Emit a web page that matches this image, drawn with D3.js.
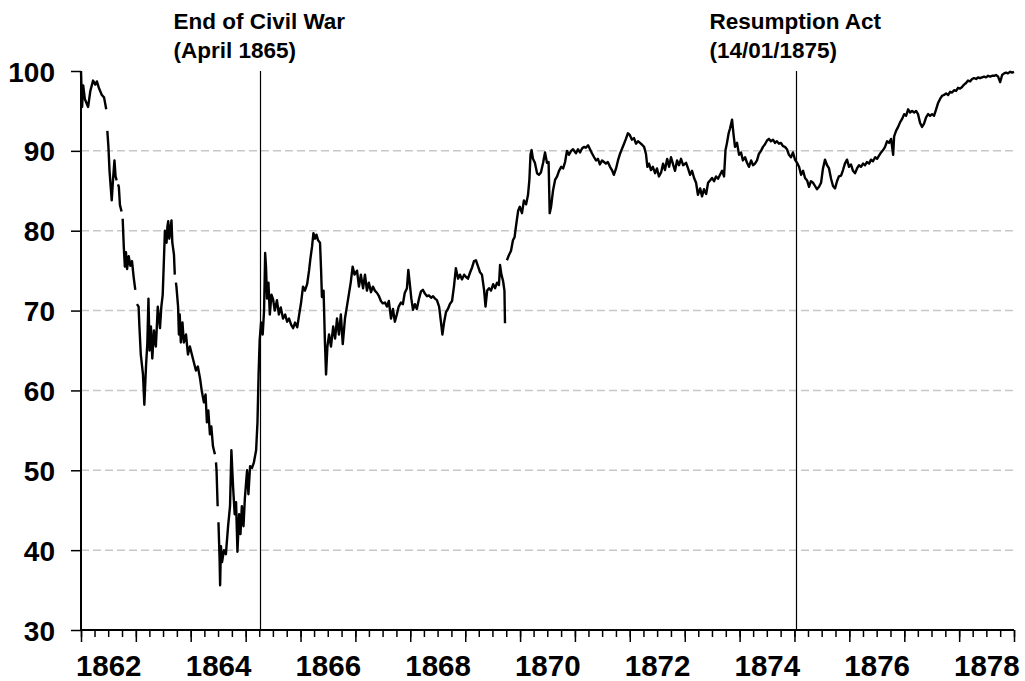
<!DOCTYPE html>
<html>
<head>
<meta charset="utf-8">
<script src="https://cdn.jsdelivr.net/npm/d3@7"></script>
<style>
  body { margin: 0; background: #fff; }
  text { font-family: "Liberation Sans", Arial, sans-serif; font-weight: bold; }
</style>
</head>
<body>
<script>
// greenback price in gold, readings as [fraction of year, value]; null marks a gap
var p1862 = [[0,100],[.02,95.5],[.04,98.2],[.07,96.5],[.13,95.5],[.17,97.5],[.22,98.8],[.26,98.3],[.29,98.7],[.33,97.8],[.38,97.0],[.42,96.7],[.46,95.2],[.47,null],[.48,92.5],[.50,90.5],[.52,87.5],[.56,83.8],[.585,86.5],[.61,88.8],[.63,86.8],[.65,86.3],[.665,null],[.675,85.8],[.69,85.5],[.71,83.2],[.74,82.4],[.75,null],[.76,81.5],[.78,78],[.80,75.5],[.82,77.3],[.84,75.2],[.87,76.8],[.90,75.6],[.93,76.2],[.96,74.2],[.99,72.6],[1.0,null]];
var p1863 = [[.02,70.8],[.05,70.5],[.065,68],[.09,64.5],[.13,62],[.155,58.2],[.185,63],[.21,66],[.23,71.5],[.25,65],[.275,68],[.30,64],[.33,67.5],[.365,65.5],[.40,70.5],[.44,67.8],[.465,70.5],[.49,72],[.51,76],[.53,80],[.56,78.5],[.575,80.5],[.59,81.2],[.61,79],[.65,81.3],[.665,78.5],[.695,77],[.71,74.5],[.72,null],[.73,73.5],[.74,73],[.77,70.5],[.785,67],[.80,69.5],[.82,66],[.85,68.5],[.875,66],[.915,67],[.95,64.5],[.985,65.5]];
var p1864 = [[.04,64],[.095,62.5],[.13,63],[.17,61.5],[.20,60],[.24,58.5],[.27,59.5],[.295,56],[.32,57.5],[.35,54.5],[.375,55.5],[.405,53],[.44,52],[.45,null],[.46,51],[.47,50],[.49,45.5],[.50,null],[.505,43.5],[.525,39],[.535,35.6],[.55,40.5],[.57,38.5],[.605,40],[.64,39.5],[.68,43],[.715,45.5],[.74,52.5],[.77,48],[.80,44.5],[.825,46],[.85,39.8],[.88,44.5],[.905,42],[.93,45.5],[.96,43],[.985,46.5]];
var p1865 = [[.025,50],[.05,47],[.08,50.5],[.115,50.3],[.15,51],[.19,52.5],[.215,56],[.235,62],[.255,66.3],[.28,68.5],[.31,67],[.335,70],[.355,77.2],[.37,75.5],[.39,71.5],[.415,73.5],[.44,69.5],[.47,72],[.50,71.4],[.53,70],[.57,71.3],[.605,69.5],[.64,70.4],[.68,69],[.72,69.5],[.755,68.6],[.79,69],[.83,68.2],[.865,67.8],[.90,68.5],[.94,67.9],[.975,69.5]];
var p1866 = [[.01,71],[.045,73],[.08,72.5],[.12,73.3],[.155,75],[.18,76.5],[.21,78],[.235,79.7],[.265,79],[.29,79.5],[.32,78.8],[.355,78.5],[.375,75],[.39,71.7],[.42,72.5],[.445,66],[.465,62],[.49,65.5],[.52,67],[.555,65.5],[.595,68],[.63,66.5],[.665,69],[.70,67],[.735,69.5],[.77,65.8],[.81,69],[.845,70.5],[.88,72],[.915,73.5],[.95,75.5],[.985,74.5]];
var p1867 = [[.03,75],[.065,73],[.10,74.5],[.14,72.8],[.175,74.5],[.21,72.5],[.245,73.5],[.285,72.3],[.32,73],[.355,72.5],[.395,72.2],[.43,71.8],[.465,71.2],[.50,70.9],[.54,71],[.575,70.5],[.61,71.2],[.65,69],[.685,70.2],[.72,68.6],[.755,69.5],[.79,70.5],[.83,71],[.865,70.8],[.90,72.2],[.94,72.8],[.965,75.1],[.99,73.5]];
var p1868 = [[.02,71.5],[.05,70.1],[.085,70.8],[.12,70.2],[.16,71.5],[.195,72.4],[.23,72.6],[.27,72.1],[.305,71.8],[.34,71.9],[.38,71.6],[.415,71.8],[.45,71.5],[.485,71.3],[.525,70.5],[.56,68.5],[.585,67],[.615,68.5],[.65,69.8],[.685,70.2],[.72,70.8],[.76,71.2],[.795,73],[.83,75.3],[.87,74],[.905,74.5],[.94,73.9],[.98,74.5]];
var p1869 = [[.015,74.2],[.05,74],[.09,74.8],[.125,75.4],[.16,76.2],[.195,76.3],[.235,75.5],[.27,74.8],[.305,74.5],[.345,72.5],[.37,70.5],[.40,72.5],[.435,72.8],[.47,72.5],[.51,73.3],[.545,72.8],[.58,73.5],[.615,73.2],[.635,75.7],[.66,74.5],[.69,73.7],[.715,72.5],[.725,68.4],[.73,null],[.76,76.3],[.80,77],[.835,77.5],[.87,78.8],[.90,79.2],[.93,80.8],[.965,82.5],[.995,83]];
var p1870 = [[.035,82.2],[.07,83.8],[.11,83.3],[.145,84.5],[.17,86.4],[.19,89.5],[.21,90.1],[.235,89],[.27,88.5],[.31,87.2],[.345,87],[.38,87.3],[.42,88.5],[.455,89.8],[.49,88.5],[.52,88.6],[.54,82.2],[.565,83],[.60,85],[.64,86.4],[.675,86.8],[.71,87.5],[.75,88],[.785,87.8],[.82,88.6],[.855,90],[.89,89.5],[.93,90],[.965,90.2]];
var p1871 = [[.02,89.7],[.055,90.2],[.093,89.8],[.13,90.3],[.165,90.5],[.20,90.4],[.24,90.7],[.275,90.2],[.31,89.7],[.35,89.2],[.385,88.8],[.42,89.0],[.455,88.3],[.495,88.8],[.53,88.6],[.565,88.4],[.60,88.6],[.64,88.0],[.675,87.6],[.71,87.0],[.75,87.8],[.785,88.8],[.82,89.6],[.855,90.2],[.89,90.8],[.93,91.5],[.965,92.2]];
var p1872 = [[0,92.0],[.04,91.4],[.077,91.6],[.113,90.9],[.15,91.2],[.186,91.0],[.22,90.8],[.26,90.5],[.295,89.6],[.32,88.0],[.35,88.4],[.386,87.6],[.42,88.0],[.46,87.2],[.495,87.8],[.53,86.8],[.57,87.3],[.605,88.4],[.64,87.6],[.68,89.0],[.715,88.0],[.75,89.2],[.787,88.3],[.823,87.5],[.86,88.8],[.896,88.2],[.932,89.0],[.97,88.2]];
var p1873 = [[.024,88.5],[.06,87.8],[.097,87.0],[.133,87.5],[.17,86.6],[.206,86.0],[.24,84.5],[.28,85.3],[.315,84.3],[.35,85.2],[.39,84.6],[.425,86.0],[.46,86.3],[.497,86.6],[.534,86.2],[.57,86.8],[.607,86.5],[.643,87.0],[.68,87.5],[.716,86.8],[.743,90.1],[.77,91.0],[.80,92.2],[.825,92.8],[.862,93.9],[.89,92.0],[.916,90.5],[.953,91.0],[.99,89.5]];
var p1874 = [[.026,89.8],[.06,88.8],[.10,89.2],[.135,88.5],[.17,88.0],[.21,88.8],[.245,88.2],[.28,88.4],[.317,88.8],[.35,89.6],[.39,90.0],[.426,90.5],[.46,90.8],[.50,91.3],[.535,91.5],[.57,91.2],[.608,91.4],[.645,91.0],[.68,91.2],[.718,90.9],[.754,91.0],[.79,90.6],[.827,90.5],[.863,90.2],[.90,89.5],[.936,89.2],[.973,89.8]];
var p1875 = [[.01,88.9],[.047,88.5],[.084,88.0],[.12,87.0],[.157,87.5],[.193,86.6],[.23,86.3],[.266,85.5],[.30,86.2],[.34,86.0],[.375,85.6],[.41,85.2],[.448,85.5],[.485,86.0],[.52,87.8],[.557,88.9],[.594,88.2],[.63,87.8],[.667,86.5],[.703,85.6],[.74,85.3],[.776,86.2],[.81,86.8],[.85,86.9],[.885,87.6],[.92,88.4],[.958,88.9],[.995,88.0]];
var p1876 = [[.03,88.3],[.067,87.5],[.104,87.2],[.14,87.8],[.177,88.2],[.213,88.0],[.25,88.4],[.286,88.2],[.32,88.6],[.36,88.4],[.395,88.9],[.43,88.7],[.47,89.2],[.505,89.0],[.54,89.4],[.578,89.8],[.615,90.1],[.65,90.5],[.687,91.2],[.724,91.0],[.76,91.5],[.797,89.5],[.815,91.8],[.85,92.5],[.888,93.0],[.925,93.6],[.96,94.0],[.997,94.6]];
var p1877 = [[.033,94.4],[.07,95.2],[.106,94.8],[.142,95.0],[.18,94.8],[.215,95.0],[.25,94.6],[.288,93.5],[.324,93.0],[.36,93.4],[.397,94.2],[.434,94.6],[.47,94.4],[.507,94.6],[.543,94.4],[.58,95.2],[.616,96.0],[.652,96.5],[.69,96.9],[.725,97.0],[.762,97.2],[.80,97.0],[.835,97.4],[.87,97.3],[.908,97.6],[.944,97.5],[.98,97.9]];
var p1878 = [[.016,97.8],[.053,98.0],[.09,98.3],[.126,98.5],[.162,98.8],[.2,98.7],[.235,99.0],[.27,99.1],[.31,99.0],[.345,99.2],[.38,99.1],[.418,99.2],[.455,99.3],[.49,99.2],[.528,99.4],[.565,99.3],[.60,99.4],[.637,99.4],[.673,99.5],[.71,99.3],[.747,98.6],[.784,99.5],[.82,99.7],[.855,99.8],[.89,99.7],[.93,99.9],[.965,99.8],[1.0,99.9]];

var years = [1862,1863,1864,1865,1866,1867,1868,1869,1870,1871,1872,1873,1874,1875,1876,1877,1878];
var readings = [p1862,p1863,p1864,p1865,p1866,p1867,p1868,p1869,p1870,p1871,p1872,p1873,p1874,p1875,p1876,p1877,p1878];

var yTicks = [30,40,50,60,70,80,90,100];
var gridValues = [40,50,60,70,80,90];
var labelYears = [1862,1864,1866,1868,1870,1872,1874,1876,1878];

var events = [
  {date: new Date(1865, 3, 9), lines: ["End of Civil War", "(April 1865)"]},
  {date: new Date(1875, 0, 14), lines: ["Resumption Act", "(14/01/1875)"]}
];

function main(){

  var width = 1025, height = 681;
  var margin = {top: 71, right: 11, bottom: 51, left: 81};

  var svg = d3.select("body").append("svg")
      .attr("width", width)
      .attr("height", height);

  var x = d3.scaleTime()
      .domain([new Date(1862, 0, 1), new Date(1879, 0, 1)])
      .range([margin.left, width - margin.right]);

  var y = d3.scaleLinear()
      .domain([30, 100])
      .range([height - margin.bottom, margin.top]);

  function toDate(year, f) {
    var a = new Date(year, 0, 1), b = new Date(year + 1, 0, 1);
    return new Date(a.getTime() + f * (b - a));
  }

  var data = [];
  years.forEach(function(yr, i) {
    readings[i].forEach(function(r) {
      data.push({date: toDate(yr, r[0]), value: r[1]});
    });
  });

  // gridlines
  svg.append("g")
     .selectAll("line")
     .data(gridValues)
     .join("line")
     .attr("x1", x.range()[0])
     .attr("x2", x.range()[1])
     .attr("y1", d => y(d))
     .attr("y2", d => y(d))
     .attr("stroke", "#c8c8c8")
     .attr("stroke-width", 1.5)
     .attr("stroke-dasharray", "8,4");

  // event lines and notes
  var ev = svg.append("g").selectAll("g")
     .data(events)
     .join("g");

  ev.append("line")
    .attr("x1", d => Math.round(x(d.date)) + 0.5)
    .attr("x2", d => Math.round(x(d.date)) + 0.5)
    .attr("y1", y(100))
    .attr("y2", y(30))
    .attr("stroke", "#000")
    .attr("stroke-width", 1.2);

  ev.append("text")
    .attr("x", d => x(d.date) - 87)
    .attr("y", 29)
    .style("font-size", "22.5px")
    .selectAll("tspan")
    .data(d => d.lines)
    .join("tspan")
    .attr("x", function() { return d3.select(this.parentNode).attr("x"); })
    .attr("dy", (d, i) => i === 0 ? 0 : 29)
    .text(d => d);

  // the series
  var line = d3.line()
      .defined(d => d.value !== null)
      .x(d => x(d.date))
      .y(d => y(d.value));

  svg.append("path")
     .datum(data)
     .attr("d", line)
     .attr("fill", "none")
     .attr("stroke", "#000")
     .attr("stroke-width", 2.4)
     .attr("stroke-linejoin", "round");

  // y axis
  var yAxis = svg.append("g")
     .attr("transform", "translate(" + margin.left + ",0)")
     .call(d3.axisLeft(y).tickValues(yTicks).tickSize(10).tickPadding(16).tickFormat(d3.format("d")));
  yAxis.select(".domain").attr("stroke-width", 2).attr("d", "M0," + y(100) + "V" + y(30));
  yAxis.selectAll(".tick line").attr("stroke-width", 1.5);
  yAxis.selectAll("text").style("font-size", "28px").attr("fill", "#000").attr("dy", "0.36em");

  // x axis, quarterly minor and yearly major ticks
  var xg = svg.append("g").attr("transform", "translate(0," + y(30) + ")");
  xg.append("g")
    .call(d3.axisBottom(x).ticks(d3.timeMonth.every(3)).tickSize(7).tickFormat(""))
    .call(g => g.select(".domain").remove())
    .selectAll(".tick line").attr("stroke-width", 1.5);
  xg.append("g")
    .call(d3.axisBottom(x).ticks(d3.timeYear.every(1)).tickSize(12).tickFormat(""))
    .call(g => g.select(".domain").attr("stroke-width", 2).attr("d", "M" + x.range()[0] + ",0H" + x.range()[1]))
    .selectAll(".tick line").attr("stroke-width", 1.5);
  xg.append("g")
    .call(d3.axisBottom(x)
      .tickValues(labelYears.map(yr => new Date(yr, 6, 1)))
      .tickSize(0).tickPadding(25)
      .tickFormat(d3.timeFormat("%Y")))
    .call(g => g.select(".domain").remove())
    .selectAll("text").style("font-size", "29.5px").attr("fill", "#000");
}
main();
</script>
</body>
</html>
